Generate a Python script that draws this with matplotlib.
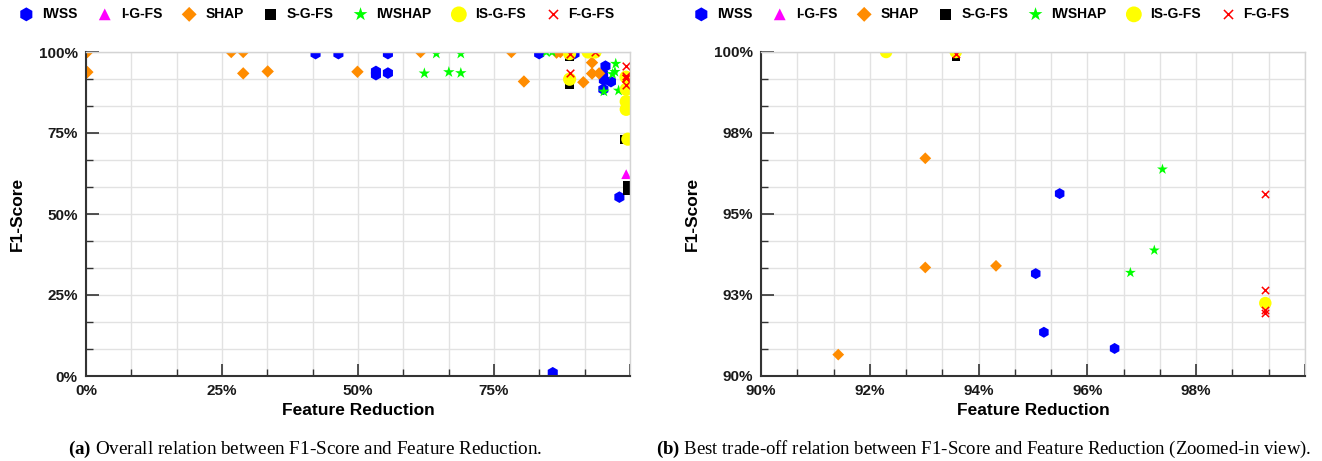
import numpy as np
import matplotlib
matplotlib.use("Agg")
import matplotlib.pyplot as plt

plt.rcParams['font.family'] = ['Liberation Sans', 'DejaVu Sans']
plt.rcParams['mathtext.fontset'] = 'custom'
plt.rcParams['mathtext.rm'] = 'Liberation Serif'
plt.rcParams['mathtext.bf'] = 'Liberation Serif:bold'

# Feature reduction (x) and F1-score (y) per method
iwss_x = [0.422, 0.464, 0.555, 0.533, 0.533, 0.555, 0.833, 0.898, 0.9549, 0.9505, 0.9520, 0.9650, 0.951, 0.9805, 0.858]
iwss_y = [0.995, 0.995, 0.995, 0.940, 0.930, 0.935, 0.995, 0.995, 0.9563, 0.9316, 0.9135, 0.9085, 0.885, 0.552, 0.010]

igfs_x = [0.993]
igfs_y = [0.623]

shap_x = [0.0025, 0.0025, 0.267, 0.289, 0.289, 0.334, 0.499, 0.615, 0.782, 0.805, 0.865, 0.872,
          0.9302, 0.9302, 0.9432, 0.9142]
shap_y = [1.0, 0.938, 1.0, 1.0, 0.934, 0.940, 0.939, 1.0, 1.0, 0.909, 0.998, 1.0,
          0.9672, 0.9335, 0.9340, 0.9066]

sgfs_x = [0.889, 0.889, 0.9358, 0.990, 0.996, 0.996]
sgfs_y = [0.985, 0.899, 0.9985, 0.731, 0.589, 0.571]

iwshap_x = [0.622, 0.644, 0.667, 0.689, 0.689, 0.846, 0.857, 0.9738, 0.9723, 0.9679, 0.952, 0.979]
iwshap_y = [0.934, 0.995, 0.938, 0.995, 0.935, 1.0, 1.0, 0.9638, 0.9388, 0.9319, 0.878, 0.881]

isgfs_x = [0.889, 0.889, 0.923, 0.9358, 0.9927, 0.993, 0.993, 0.993, 0.996]
isgfs_y = [0.995, 0.916, 1.0, 1.0, 0.9225, 0.885, 0.847, 0.823, 0.731]

fgfs_x = [0.889, 0.889, 0.9358, 0.9927, 0.9927, 0.9927, 0.9927, 0.9927]
fgfs_y = [0.995, 0.936, 0.9995, 0.9561, 0.9265, 0.9205, 0.9194, 0.899]

series = [
    ("IWSS", iwss_x, iwss_y, "#0000ff", "h", 70),
    ("I-G-FS", igfs_x, igfs_y, "#ff00ff", "^", 50),
    ("SHAP", shap_x, shap_y, "#ff8c00", "D", 40),
    ("S-G-FS", sgfs_x, sgfs_y, "#000000", "s", 40),
    ("IWSHAP", iwshap_x, iwshap_y, "#00ff00", "*", 75),
    ("IS-G-FS", isgfs_x, isgfs_y, "#ffff00", "o", 90),
    ("F-G-FS", fgfs_x, fgfs_y, "#ff0000", "x", 30),
]

W, H = 1322, 461
fig = plt.figure(figsize=(W / 100, H / 100), dpi=100)
ax1 = fig.add_axes([86 / W, 85 / H, 544 / W, 324 / H])
ax2 = fig.add_axes([761 / W, 85 / H, 544 / W, 324 / H])


def style_axes(ax):
    ax.set_axisbelow(True)
    ax.grid(True, which='both', color='#e2e2e2', lw=1.0)
    for side in ['top', 'right']:
        ax.spines[side].set_color('#d4d4d4')
        ax.spines[side].set_linewidth(1.0)
    for side in ['left', 'bottom']:
        ax.spines[side].set_color('#333333')
        ax.spines[side].set_linewidth(1.5)
    ax.tick_params(which='both', direction='in', top=False, right=False, color='#333333')
    ax.tick_params(which='major', length=9, width=1.2, pad=6)
    ax.tick_params(which='minor', length=5, width=1.0)
    for lab in ax.get_xticklabels() + ax.get_yticklabels():
        lab.set_fontweight('bold')
        lab.set_fontsize(11)
        lab.set_color('#1a1a1a')
    ax.set_xlabel("Feature Reduction", fontsize=12.5, fontweight='bold', labelpad=3)
    ax.set_ylabel("F1-Score", fontsize=12.5, fontweight='bold', labelpad=10)


handles = []
for ax, big in [(ax1, True), (ax2, False)]:
    for name, xs, ys, col, mk, s in series:
        size = s if big else s * 0.9
        if mk == 'x':
            h = ax.scatter(xs, ys, s=size, marker=mk, c=col, linewidths=1.1, label=name)
        else:
            h = ax.scatter(xs, ys, s=size, marker=mk, c=col, edgecolors='none', label=name)
        if big:
            handles.append(h)

# left: full range
ax1.set_xlim(0, 1)
ax1.set_ylim(0, 1)
ax1.set_xticks([0, 0.25, 0.5, 0.75, 1.0])
ax1.set_xticklabels(['0%', '25%', '50%', '75%', ''])
ax1.set_yticks([0, 0.25, 0.5, 0.75, 1.0])
ax1.set_yticklabels(['0%', '25%', '50%', '75%', '100%'])
minor1 = [v for v in np.linspace(0, 1, 13) if round(v * 12) % 3 != 0]
ax1.set_xticks(minor1, minor=True)
ax1.set_yticks(minor1, minor=True)
style_axes(ax1)

# right: zoomed-in
ax2.set_xlim(0.9, 1.0)
ax2.set_ylim(0.9, 1.0)
ax2.set_xticks([0.90, 0.92, 0.94, 0.96, 0.98, 1.0])
ax2.set_xticklabels(['90%', '92%', '94%', '96%', '98%', ''])
ax2.set_yticks([0.9, 0.925, 0.95, 0.975, 1.0])
ax2.set_yticklabels(['90%', '93%', '95%', '98%', '100%'])
ax2.set_xticks([v for i, v in enumerate(np.linspace(0.9, 1.0, 16)) if i % 3 != 0], minor=True)
ax2.set_yticks([v for i, v in enumerate(np.linspace(0.9, 1.0, 13)) if i % 3 != 0], minor=True)
style_axes(ax2)

labels = [s[0] for s in series]
for cx in [317 / W, 992 / W]:
    fig.legend(handles, labels, loc='center', bbox_to_anchor=(cx, 1 - 14 / H), ncol=7,
               frameon=False, scatterpoints=1, markerscale=1.2, handlelength=1.0,
               handletextpad=0.65, columnspacing=1.45, prop={'weight': 'bold', 'size': 10})

fig.text(305 / W, 1 - 449 / H, r"$\mathbf{(a)}$ Overall relation between F1-Score and Feature Reduction.",
         ha='center', va='center', fontsize=13.8, family='Liberation Serif')
fig.text(984 / W, 1 - 449 / H,
         r"$\mathbf{(b)}$ Best trade-off relation between F1-Score and Feature Reduction (Zoomed-in view).",
         ha='center', va='center', fontsize=13.5, family='Liberation Serif')

fig.savefig("out.png", dpi=100)
